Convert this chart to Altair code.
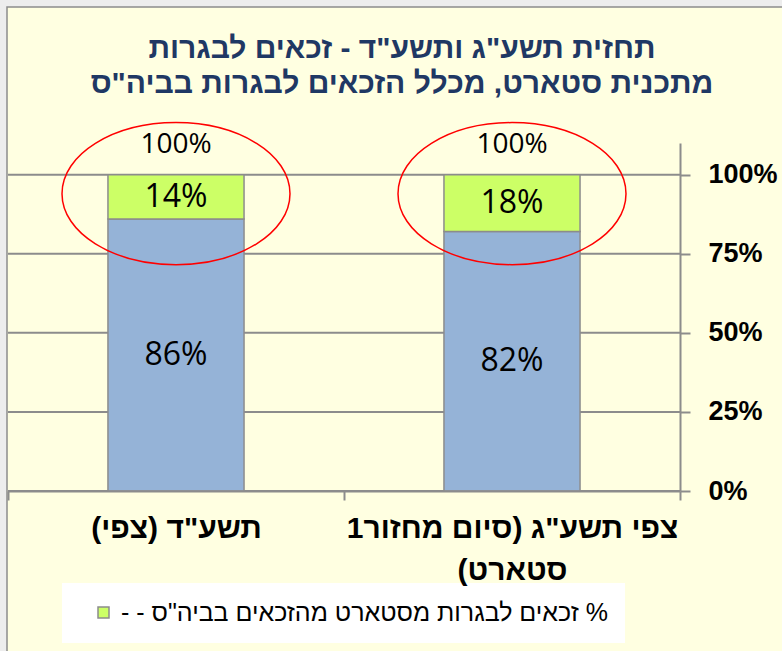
import altair as alt
import pandas as pd

# ---- data ----
categories = ['תשע"ד (צפי)', 'צפי תשע"ג (סיום מחזור1\nסטארט)\u200f']
base_share = [0.86, 0.82]      # blue part
start_share = [0.14, 0.18]     # green part (Start program)
total_share = [1.00, 1.00]
y_ticks = [0, 0.25, 0.5, 0.75, 1.0]
series_name = '\u200f% זכאים לבגרות מסטארט מהזכאים בביה"ס - -\u200f'
title_lines = ['תחזית תשע"ג ותשע"ד  - זכאים לבגרות',
               'מתכנית סטארט, מכלל הזכאים לבגרות בביה"ס']

df = pd.DataFrame({
    'category': categories,
    'base': base_share,
    'start': start_share,
    'total': total_share,
})
df['series'] = series_name
df['base_mid'] = df['base'] / 2
df['start_mid'] = df['base'] + df['start'] / 2

GRAY = '#8C8C8C'
y_scale = alt.Scale(domain=[0, 1.1], nice=False)
y_axis = alt.Axis(orient='right', values=y_ticks, format='.0%', title=None, grid=False,
                  labelFont='Liberation Sans', labelFontWeight='bold', labelFontSize=27,
                  labelColor='black', labelPadding=18, tickSize=10, tickColor=GRAY,
                  tickWidth=2, domainColor=GRAY, domainWidth=2, zindex=1)
x_enc = alt.X('category:N', sort=categories,
              scale=alt.Scale(paddingInner=0, paddingOuter=0),
              axis=alt.Axis(title=None, labelExpr="split(datum.label, '\\n')",
                            labelFont='Liberation Sans', labelFontWeight='bold',
                            labelFontSize=30, labelColor='black', labelAngle=0,
                            labelPadding=13, labelLineHeight=42, labelLimit=460,
                            tickBand='extent', tickSize=9, tickColor=GRAY, tickWidth=2,
                            domainColor=GRAY, domainWidth=2, grid=False, zindex=1))

def Y(field):
    return alt.Y(field, scale=y_scale, axis=y_axis)

frame = alt.Chart(alt.Data(values=[{}])).mark_rect(
    fill='#FFFFE1', stroke=GRAY, strokeWidth=1.5
).encode(x=alt.value(-1), x2=alt.value(800), y=alt.value(-136), y2=alt.value(640))

grid = alt.Chart(pd.DataFrame({'tick': y_ticks})).mark_rule(
    color=GRAY, strokeWidth=2
).encode(y=Y('tick:Q'))

base = alt.Chart(df)

blue = base.mark_bar(color='#95B3D7', stroke=GRAY, strokeWidth=1.5,
                     width={'band': 0.405}).encode(x=x_enc, y=Y('base:Q'))

green = base.mark_bar(stroke=GRAY, strokeWidth=1.5, width={'band': 0.405}).encode(
    x=x_enc, y=Y('base:Q'), y2='total:Q',
    color=alt.Color('series:N', scale=alt.Scale(domain=[series_name], range=['#CCFF66']),
                    legend=alt.Legend(title=None, orient='none', legendX=54, legendY=440,
                                      fillColor='white', padding=17, symbolType='square',
                                      symbolSize=121, symbolStrokeColor=GRAY,
                                      symbolStrokeWidth=1.5, symbolOffset=12,
                                      labelFont='Liberation Sans', labelFontSize=25,
                                      labelColor='black', labelLimit=0, labelOffset=5)))

lab_font = 'Open Sans'
blue_lab = base.mark_text(font=lab_font, fontSize=32, color='black').encode(
    x=x_enc, y=Y('base_mid:Q'), text=alt.Text('base:Q', format='.0%'))
green_lab = base.mark_text(font=lab_font, fontSize=32, color='black').encode(
    x=x_enc, y=Y('start_mid:Q'), text=alt.Text('start:Q', format='.0%'))
total_lab = base.mark_text(font=lab_font, fontSize=28, color='black', dy=-30).encode(
    x=x_enc, y=Y('total:Q'), text=alt.Text('total:Q', format='.0%'))

ellipse_path = ('M -1 0 C -1 -0.344 -0.552 -0.623 0 -0.623 C 0.552 -0.623 1 -0.344 1 0 '
                'C 1 0.344 0.552 0.623 0 0.623 C -0.552 0.623 -1 0.344 -1 0 Z')
ellipses = base.mark_point(shape=ellipse_path, size=51984, filled=False, stroke='#FF0000',
                           strokeWidth=1.5, opacity=1, yOffset=19).encode(
    x=x_enc, y=Y('total:Q'))

chart = alt.layer(frame, grid, blue, green, blue_lab, green_lab, total_lab, ellipses).properties(
    width=672, height=348,
    autosize=alt.AutoSizeParams(type='none'),
    padding={'left': 8, 'top': 143, 'right': 102, 'bottom': 160},
    background='#EDEDED',
    title=alt.TitleParams(text=title_lines, font='Liberation Sans', fontSize=30,
                          fontWeight='bold', color='#1F3864', anchor='middle',
                          frame='group', offset=-93, dx=58, lineHeight=35),
).configure_view(stroke=None)

chart.save("out.html", embed_options={"renderer": "svg", "actions": False})
